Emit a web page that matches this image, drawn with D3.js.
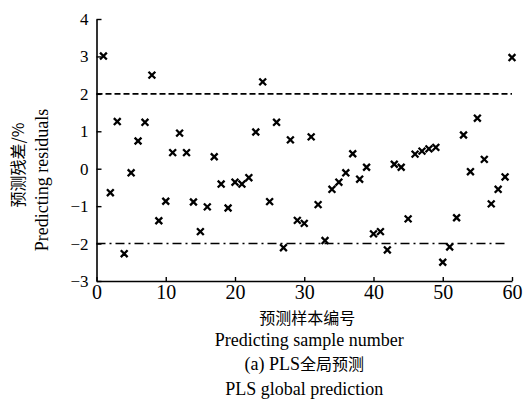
<!DOCTYPE html>
<html>
<head>
<meta charset="utf-8">
<script src="https://cdn.jsdelivr.net/npm/d3@7"></script>
<style>
  html, body { margin: 0; padding: 0; background: #fff; }
  svg { display: block; }
</style>
</head>
<body>
<svg id="chart" width="524" height="416"></svg>
<script>
// residuos de predicción PLS, muestras 1..60
const sampleIds = d3.range(1, 61);
const residuals = [
  3.01, -0.64, 1.26, -2.27, -0.11, 0.74, 1.24, 2.50, -1.39, -0.87,
  0.43, 0.95, 0.43, -0.89, -1.68, -1.02, 0.32, -0.41, -1.05, -0.36,
  -0.41, -0.24, 0.98, 2.32, -0.88, 1.24, -2.11, 0.77, -1.38, -1.46,
  0.85, -0.96, -1.92, -0.55, -0.36, -0.11, 0.40, -0.28, 0.04, -1.74,
  -1.68, -2.17, 0.12, 0.04, -1.34, 0.39, 0.47, 0.53, 0.57, -2.50,
  -2.09, -1.31, 0.90, -0.08, 1.35, 0.25, -0.94, -0.55, -0.22, 2.97
];
const xTicks = [0, 10, 20, 30, 40, 50, 60];
const yTicks = [-3, -2, -1, 0, 1, 2, 3, 4];
const upperLimit = 2, lowerLimit = -2;

const svg = d3.select('#chart');
const serif = 'Liberation Serif, Times New Roman, serif';
const cjk = 'Noto Sans CJK SC, sans-serif';

const x = d3.scaleLinear().domain([0, 60]).range([96.5, 512]);
const y = d3.scaleLinear().domain([-3, 4]).range([281, 19]);

// líneas límite
svg.append('line')
  .attr('x1', x(0)).attr('x2', x(60)).attr('y1', y(upperLimit)).attr('y2', y(upperLimit))
  .attr('stroke', '#000').attr('stroke-width', 1.6).attr('stroke-dasharray', '6,3');
svg.append('line')
  .attr('x1', x(0)).attr('x2', x(59)).attr('y1', y(lowerLimit)).attr('y2', y(lowerLimit))
  .attr('stroke', '#000').attr('stroke-width', 1.6).attr('stroke-dasharray', '9,4,2,4');

// ejes
const fmt = d3.format('d');
const xAxis = svg.append('g').attr('transform', `translate(0,${y(-3)})`)
  .call(d3.axisBottom(x).tickValues(xTicks).tickFormat(fmt).tickSizeInner(-4).tickSizeOuter(0).tickPadding(4));
const yAxis = svg.append('g').attr('transform', `translate(${x(0)},0)`)
  .call(d3.axisLeft(y).tickValues(yTicks).tickFormat(fmt).tickSizeInner(-5).tickSizeOuter(0).tickPadding(8));
xAxis.attr('font-family', serif).attr('font-size', 20);
yAxis.attr('font-family', serif).attr('font-size', 17);
[xAxis, yAxis].forEach(g => {
  g.select('.domain').attr('stroke', '#000').attr('stroke-width', 1.6);
  g.selectAll('.tick line').attr('stroke', '#000').attr('stroke-width', 1.4);
  g.selectAll('.tick text').attr('fill', '#000');
});

// marcadores ×
const s = 3.4;
svg.append('g').selectAll('path').data(sampleIds).join('path')
  .attr('d', (d, i) => {
    const cx = x(d), cy = y(residuals[i]);
    return `M${cx - s},${cy - s}L${cx + s},${cy + s}M${cx - s},${cy + s}L${cx + s},${cy - s}`;
  })
  .attr('stroke', '#000').attr('stroke-width', 2.3).attr('fill', 'none');

// títulos
const cx0 = (x(0) + x(60)) / 2;
const yt = svg.append('g').attr('transform', 'translate(0,175) rotate(-90)');
yt.append('text').attr('x', 10).attr('y', 24).attr('text-anchor', 'middle')
  .attr('font-family', cjk).attr('font-size', 16).text('预测残差/%');
yt.append('text').attr('x', -5).attr('y', 48).attr('text-anchor', 'middle')
  .attr('font-family', serif).attr('font-size', 18).text('Predicting residuals');

svg.append('text').attr('x', cx0 + 3).attr('y', 324).attr('text-anchor', 'middle')
  .attr('font-family', cjk).attr('font-size', 16).text('预测样本编号');
svg.append('text').attr('x', cx0 + 5).attr('y', 346).attr('text-anchor', 'middle')
  .attr('font-family', serif).attr('font-size', 18).text('Predicting sample number');
svg.append('text').attr('x', cx0).attr('y', 370).attr('text-anchor', 'middle')
  .attr('font-size', 16)
  .call(t => {
    t.append('tspan').attr('font-family', serif).attr('font-size', 18).text('(a) PLS');
    t.append('tspan').attr('font-family', cjk).text('全局预测');
  });
svg.append('text').attr('x', cx0).attr('y', 395).attr('text-anchor', 'middle')
  .attr('font-family', serif).attr('font-size', 18).text('PLS global prediction');
</script>
</body>
</html>
